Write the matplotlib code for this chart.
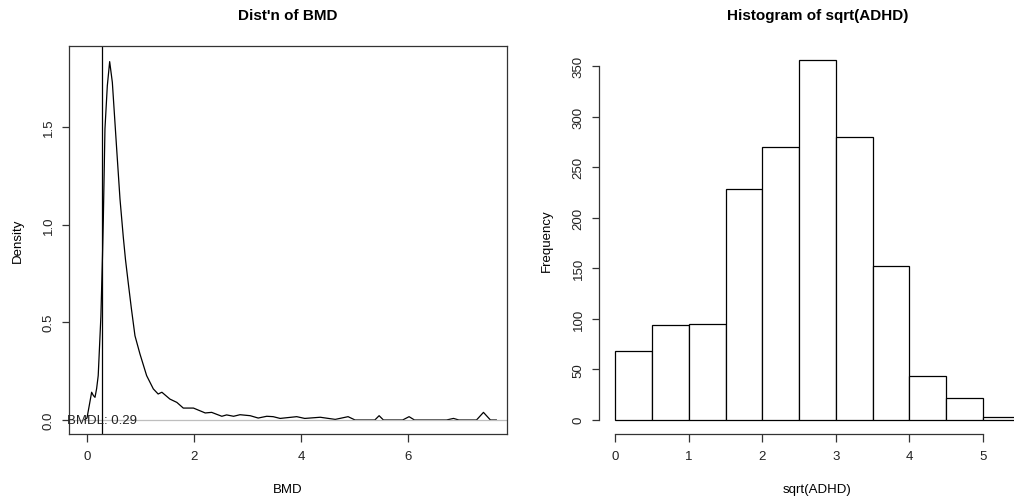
import matplotlib
matplotlib.use("Agg")
import matplotlib.pyplot as plt
import numpy as np

plt.rcParams['font.family'] = ['Liberation Sans', 'DejaVu Sans']

# ---- Density of BMD ----
bmd_x = [-0.05, 0.0, 0.04, 0.087, 0.12, 0.15, 0.18, 0.21, 0.26, 0.29, 0.305, 0.336,
         0.38, 0.424, 0.474, 0.555, 0.617, 0.679, 0.72, 0.772, 0.83, 0.897, 0.99, 1.115, 1.24,
         1.33, 1.40, 1.55, 1.68, 1.80, 1.99, 2.21, 2.33, 2.52, 2.61, 2.74, 2.86,
         3.05, 3.20, 3.36, 3.48, 3.61, 3.92, 4.07, 4.36, 4.64, 4.88, 5.01, 5.30,
         5.38, 5.46, 5.54, 5.90, 6.02, 6.12, 6.72, 6.85, 6.95, 7.28, 7.41, 7.54, 7.65]
bmd_y = [0.0, 0.01, 0.07, 0.142, 0.125, 0.116, 0.16, 0.227, 0.53, 0.84, 1.02, 1.49,
         1.71, 1.834, 1.728, 1.387, 1.131, 0.935, 0.82, 0.70, 0.57, 0.431, 0.338, 0.227, 0.159,
         0.133, 0.142, 0.107, 0.09, 0.061, 0.061, 0.036, 0.039, 0.019, 0.026, 0.019, 0.027,
         0.022, 0.01, 0.019, 0.017, 0.008, 0.017, 0.008, 0.014, 0.003, 0.017, 0.0, 0.0,
         0.0, 0.022, 0.0, 0.0, 0.017, 0.0, 0.0, 0.008, 0.0, 0.0, 0.039, 0.0, 0.0]
bmdl = 0.29
bmd_xticks = [0, 2, 4, 6]
bmd_yticks = [0.0, 0.5, 1.0, 1.5]

# ---- Histogram of sqrt(ADHD) ----
hist_edges = [0.0, 0.5, 1.0, 1.5, 2.0, 2.5, 3.0, 3.5, 4.0, 4.5, 5.0, 5.5]
hist_counts = [68, 94, 95, 229, 270, 356, 280, 152, 43, 21, 3]
hist_xticks = [0, 1, 2, 3, 4, 5]
hist_yticks = [0, 50, 100, 150, 200, 250, 300, 350]

W, H = 1014, 502
fig = plt.figure(figsize=(W / 100, H / 100), dpi=100)

FS = 9.5
TFS = 11

def px_axes(l, t, r, b):
    return [l / W, 1 - b / H, (r - l) / W, (b - t) / H]

# Left panel
ax1 = fig.add_axes(px_axes(69, 47, 507, 435))
ax1.plot(bmd_x, bmd_y, color='black', lw=0.9)
ax1.axhline(0, color='#bebebe', lw=0.9)
ax1.axvline(bmdl, color='black', lw=0.9)
ax1.text(bmdl, 0, f"BMDL: {bmdl}", ha='center', va='center', fontsize=FS, color='#222222')
ax1.set_xlim(-0.336, 7.85)
ax1.set_ylim(-0.0717, 1.914)
ax1.set_xticks(bmd_xticks)
ax1.set_xticklabels([str(v) for v in bmd_xticks])
ax1.set_yticks(bmd_yticks)
ax1.set_yticklabels([f"{v:.1f}" for v in bmd_yticks], rotation=90, va='center')
ax1.set_title("Dist'n of BMD", fontsize=TFS, fontweight='bold', y=1 + 31 / 388, va='center', pad=0)
ax1.set_xlabel("BMD", fontsize=FS)
ax1.set_ylabel("Density", fontsize=FS)
ax1.xaxis.label.set_va('center')
ax1.yaxis.label.set_va('center')
ax1.xaxis.set_label_coords(0.5, -55 / 388)
ax1.yaxis.set_label_coords(-51 / 438, 0.5)
for s in ax1.spines.values():
    s.set_linewidth(0.9)
    s.set_color('#333333')

# Right panel
l2, r2 = 599, 1036
ax2 = fig.add_axes(px_axes(l2, 47, r2, 435))
widths = np.diff(hist_edges)
ax2.bar(hist_edges[:-1], hist_counts, width=widths, align='edge',
        facecolor='white', edgecolor='black', lw=0.9)
ax2.set_xlim(-0.22, 5.72)
ax2.set_ylim(-14.24, 370.24)
ax2.set_xticks(hist_xticks)
ax2.set_yticks(hist_yticks)
ax2.set_yticklabels([str(v) for v in hist_yticks], rotation=90, va='center')
ax2.spines['top'].set_visible(False)
ax2.spines['right'].set_visible(False)
ax2.spines['left'].set_bounds(0, 350)
ax2.spines['bottom'].set_bounds(0, 5)
for s in ax2.spines.values():
    s.set_linewidth(0.9)
    s.set_color('#333333')
ax2.set_title("Histogram of sqrt(ADHD)", fontsize=TFS, fontweight='bold', y=1 + 31 / 388, va='center', pad=0)
ax2.set_xlabel("sqrt(ADHD)", fontsize=FS)
ax2.set_ylabel("Frequency", fontsize=FS)
ax2.xaxis.label.set_va('center')
ax2.yaxis.label.set_va('center')
ax2.xaxis.set_label_coords(0.5, -55 / 388)
ax2.yaxis.set_label_coords(-52 / (r2 - l2), 0.5)

for ax in (ax1, ax2):
    ax.tick_params(direction='out', length=5.4, width=0.9, labelsize=FS, colors='#333333',
                   labelcolor='#222222', pad=6)
    ax.tick_params(axis='y', pad=5)

fig.savefig("out.png", dpi=100)
